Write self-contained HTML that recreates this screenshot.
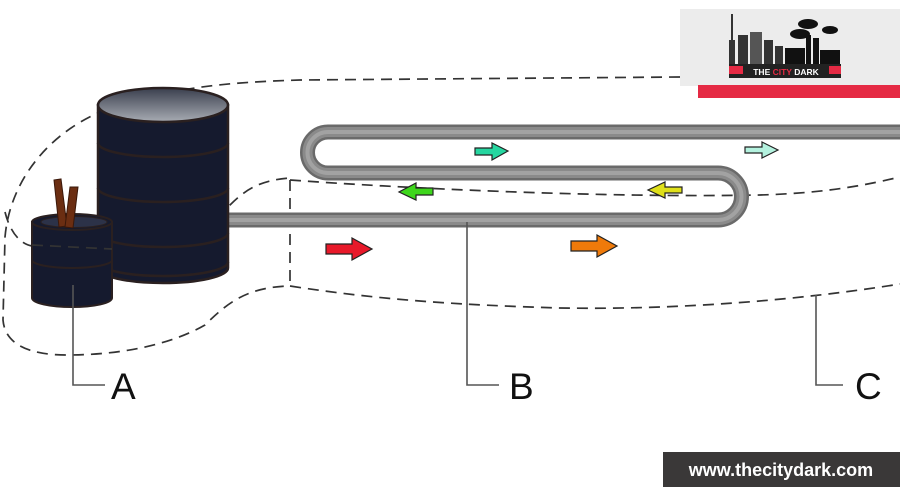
<!DOCTYPE html>
<html><head><meta charset="utf-8"><style>
html,body{margin:0;padding:0;background:#fff;width:900px;height:500px;overflow:hidden}
svg{display:block}
</style></head><body>
<svg width="900" height="500" viewBox="0 0 900 500" xmlns="http://www.w3.org/2000/svg">
<defs>
<linearGradient id="top" x1="0" y1="0" x2="0" y2="1">
<stop offset="0" stop-color="#3a3f4e"/><stop offset="1" stop-color="#a8acb4"/>
</linearGradient>
</defs>
<rect width="900" height="500" fill="#fff"/>

<!-- dashed regions -->
<g fill="none" stroke="#333" stroke-width="1.7" stroke-dasharray="11,7">
<path d="M680,77 L300,80 C240,82 180,85 110,108 C50,130 10,180 5,237 L3,320 C5,345 30,355 67,355 C120,355 170,345 205,325 C230,300 250,287 290,286"/>
<path d="M5,212 C10,232 20,244 32,246 L97,249 C150,245 200,225 230,205 C245,190 260,180 290,178"/>
<path d="M290,180 L290,286"/>
<path d="M290,180 C400,188 600,198 760,195 C830,193 870,184 900,177"/>
<path d="M290,286 C380,300 460,305 560,308 C680,310 800,300 900,284"/>
</g>

<!-- pipe -->
<g fill="none" stroke-linecap="butt">
<path d="M222,220 L718,220 A23.5,23.5 0 0 0 718,173 L328,173 A20.5,20.5 0 0 1 328,132 L900,132" stroke="#6a6a6a" stroke-width="15"/>
<path d="M222,220 L718,220 A23.5,23.5 0 0 0 718,173 L328,173 A20.5,20.5 0 0 1 328,132 L900,132" stroke="#8a8a8a" stroke-width="10"/>
<path d="M222,220 L718,220 A23.5,23.5 0 0 0 718,173 L328,173 A20.5,20.5 0 0 1 328,132 L900,132" stroke="#a2a2a2" stroke-width="4"/>
</g>

<!-- big drum -->
<g stroke="#2a2020" stroke-width="2.5">
<path d="M98,105 L98,268 A65,15 0 0 0 228,268 L228,105 Z" fill="#151a2e"/>
<path d="M98,143 A65,14 0 0 0 228,143" fill="none"/>
<path d="M98,188 A65,14 0 0 0 228,188" fill="none"/>
<path d="M98,233 A65,14 0 0 0 228,233" fill="none"/>
<path d="M98,262 A65,14 0 0 0 228,262" fill="none"/>
<ellipse cx="163" cy="105" rx="65" ry="17" fill="url(#top)"/>
</g>
<!-- small drum -->
<g stroke="#2a2020" stroke-width="2">
<path d="M32,222 L32,298 A40,9 0 0 0 112,298 L112,222 Z" fill="#151a2e"/>
<path d="M32,260 A40,8 0 0 0 112,260" fill="none"/>
<ellipse cx="72" cy="222" rx="40" ry="8" fill="#151a2e"/>
<ellipse cx="74" cy="222" rx="33" ry="5.5" fill="#2c3248" stroke-width="1"/>
</g>
<g fill="#6b2e12" stroke="#3a180a" stroke-width="1">
<path d="M54,180 L61,179 L67,226 L59,227 Z"/>
<path d="M70,187 L78,187 L73,228 L65,227 Z"/>
</g>
<path d="M32,245 L112,249" stroke="#333" stroke-width="1.7" stroke-dasharray="11,7" fill="none"/>

<!-- arrows -->
<g stroke="#222" stroke-width="1.2">
<path d="M326,244 L352,244 L352,238 L372,249 L352,260 L352,254 L326,254 Z" fill="#e8192a"/>
<path d="M571,241 L597,241 L597,235 L617,246 L597,257 L597,251 L571,251 Z" fill="#ef7a0a"/>
<path d="M475,148 L492,148 L492,143 L508,151 L492,160 L492,155 L475,155 Z" fill="#26d6a0"/>
<path d="M745,147 L762,147 L762,142 L778,150 L762,158 L762,153 L745,153 Z" fill="#b4f2df"/>
<path d="M433,188 L416,188 L416,183 L399,192 L416,200 L416,195 L433,195 Z" fill="#3ed61c"/>
<path d="M682,187 L665,187 L665,182 L648,190 L665,198 L665,193 L682,193 Z" fill="#dfe01a"/>
</g>

<!-- leaders and labels -->
<g fill="none" stroke="#555" stroke-width="1.6">
<path d="M73,285 L73,385 L105,385"/>
<path d="M467,222 L467,385 L499,385"/>
<path d="M816,295 L816,385 L843,385"/>
</g>
<g font-family="Liberation Sans, sans-serif" font-size="37" fill="#111">
<text x="111" y="399">A</text>
<text x="509" y="399">B</text>
<text x="855" y="399">C</text>
</g>

<!-- logo -->
<rect x="680" y="9" width="220" height="77" fill="#ececec"/>
<rect x="698" y="85" width="202" height="13" fill="#e52a44"/>
<g fill="#333">
<rect x="729" y="40" width="6" height="38"/>
<rect x="731" y="14" width="2" height="28"/>
<rect x="738" y="35" width="10" height="43"/>
<rect x="750" y="32" width="12" height="46" fill="#555"/>
<rect x="764" y="40" width="9" height="38"/>
<rect x="775" y="46" width="8" height="32"/>
<rect x="785" y="48" width="20" height="30" fill="#111"/>
<rect x="806" y="35" width="5" height="43" fill="#111"/>
<rect x="813" y="38" width="6" height="40" fill="#111"/>
<rect x="820" y="50" width="20" height="28" fill="#111"/>
<ellipse cx="808" cy="24" rx="10" ry="5" fill="#111"/>
<ellipse cx="800" cy="34" rx="10" ry="5" fill="#111"/>
<ellipse cx="830" cy="30" rx="8" ry="4" fill="#111"/>
</g>
<rect x="729" y="64" width="112" height="14" fill="#222"/>
<rect x="729" y="66" width="14" height="8" fill="#e52a44"/>
<rect x="829" y="66" width="12" height="8" fill="#e52a44"/>
<text x="786" y="75" text-anchor="middle" font-family="Liberation Sans, sans-serif" font-weight="bold" font-size="8.5" fill="#fff">THE <tspan fill="#e52a44">CITY</tspan> DARK</text>

<!-- watermark -->
<rect x="663" y="452" width="237" height="35" fill="#3a3838"/>
<text x="781" y="476" text-anchor="middle" font-family="Liberation Sans, sans-serif" font-weight="bold" font-size="18" fill="#fff">www.thecitydark.com</text>
</svg>
</body></html>
